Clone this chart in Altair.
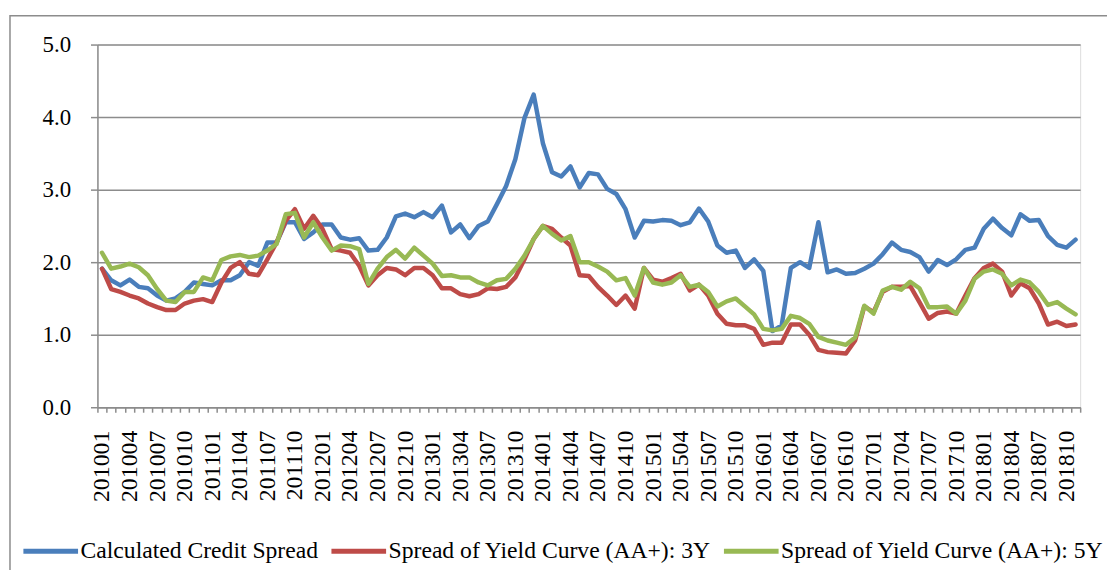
import json
import altair as alt
import pandas as pd

# Categories: monthly periods 201001 .. 201811
months = [f"{2010 + i // 12}{i % 12 + 1:02d}" for i in range(107)]

calc_spread = [
    1.91, 1.75, 1.68, 1.76, 1.66, 1.64, 1.54, 1.47, 1.50, 1.59,
    1.72, 1.70, 1.68, 1.75, 1.75, 1.82, 2.00, 1.95, 2.27, 2.27,
    2.55, 2.55, 2.32, 2.41, 2.52, 2.52, 2.34, 2.31, 2.33, 2.16,
    2.17, 2.34, 2.63, 2.67, 2.62, 2.69, 2.62, 2.78, 2.41, 2.52,
    2.33, 2.50, 2.56, 2.80, 3.05, 3.42, 3.99, 4.31, 3.64, 3.24,
    3.18, 3.32, 3.03, 3.23, 3.21, 3.01, 2.94, 2.73, 2.34, 2.57,
    2.56, 2.58, 2.57, 2.51, 2.55, 2.74, 2.56, 2.23, 2.13, 2.16,
    1.92, 2.04, 1.88, 1.05, 1.13, 1.92, 2.00, 1.92, 2.55, 1.86,
    1.90, 1.84, 1.85, 1.91, 1.98, 2.11, 2.27, 2.17, 2.14, 2.07,
    1.87, 2.03, 1.96, 2.04, 2.17, 2.20, 2.46, 2.60, 2.47, 2.37,
    2.66, 2.57, 2.58, 2.36, 2.24, 2.20, 2.31,
]

aa_3y = [
    1.91, 1.63, 1.59, 1.54, 1.50, 1.43, 1.38, 1.34, 1.34, 1.43,
    1.47, 1.49, 1.45, 1.72, 1.92, 2.00, 1.84, 1.82, 2.04, 2.27,
    2.57, 2.73, 2.46, 2.64, 2.46, 2.18, 2.16, 2.13, 1.95, 1.68,
    1.82, 1.92, 1.90, 1.82, 1.92, 1.92, 1.82, 1.64, 1.64, 1.56,
    1.53, 1.56, 1.64, 1.63, 1.66, 1.79, 2.04, 2.32, 2.50, 2.46,
    2.34, 2.23, 1.82, 1.81, 1.66, 1.54, 1.41, 1.54, 1.36, 1.92,
    1.76, 1.73, 1.78, 1.84, 1.61, 1.69, 1.54, 1.29, 1.15, 1.13,
    1.13, 1.08, 0.86, 0.89, 0.89, 1.14, 1.14, 1.00, 0.79, 0.76,
    0.75, 0.74, 0.92, 1.39, 1.31, 1.59, 1.66, 1.66, 1.67, 1.45,
    1.22, 1.30, 1.32, 1.29, 1.54, 1.78, 1.92, 1.98, 1.87, 1.54,
    1.71, 1.64, 1.43, 1.14, 1.18, 1.12, 1.14,
]

aa_5y = [
    2.13, 1.91, 1.94, 1.98, 1.93, 1.82, 1.63, 1.47, 1.45, 1.59,
    1.59, 1.79, 1.75, 2.03, 2.08, 2.10, 2.07, 2.09, 2.16, 2.25,
    2.66, 2.68, 2.34, 2.55, 2.34, 2.16, 2.23, 2.22, 2.18, 1.70,
    1.91, 2.07, 2.17, 2.05, 2.20, 2.09, 1.98, 1.81, 1.82, 1.79,
    1.79, 1.72, 1.68, 1.75, 1.77, 1.91, 2.09, 2.32, 2.50, 2.39,
    2.30, 2.36, 2.00, 2.00, 1.94, 1.87, 1.75, 1.78, 1.54, 1.92,
    1.72, 1.69, 1.72, 1.82, 1.66, 1.69, 1.59, 1.39, 1.46, 1.50,
    1.39, 1.28, 1.08, 1.06, 1.08, 1.26, 1.23, 1.15, 0.97, 0.92,
    0.89, 0.86, 0.96, 1.40, 1.29, 1.61, 1.66, 1.62, 1.73, 1.64,
    1.38, 1.38, 1.39, 1.29, 1.47, 1.77, 1.87, 1.90, 1.84, 1.68,
    1.76, 1.72, 1.59, 1.41, 1.45, 1.36, 1.28,
]

series_names = [
    "Calculated Credit Spread",
    "Spread of Yield Curve (AA+): 3Y",
    "Spread of Yield Curve (AA+): 5Y",
]
series_colors = ["#4A7EBB", "#BE4B48", "#98B954"]
y_ticks = [0, 1, 2, 3, 4, 5]

rows = []
for name, vals in zip(series_names, [calc_spread, aa_3y, aa_5y]):
    for i, (m, v) in enumerate(zip(months, vals)):
        rows.append({"idx": i, "month": m, "series": name, "value": v})
df = pd.DataFrame(rows)

n = len(months)
tick_vals = [k - 0.5 for k in range(n + 1)]
label_expr = (
    f"((datum.value + 0.5) % 3 == 0 && datum.value + 0.5 < {n}) ? "
    f"{json.dumps(months)}[datum.value + 0.5] : ''"
)

FONT = "Liberation Serif"
GRAY = "#8c8c8c"
PLOT_W, PLOT_H = 989, 365

lines = alt.Chart(df).mark_line(strokeWidth=4.5, strokeJoin="round", strokeCap="round").encode(
    x=alt.X(
        "idx:Q",
        scale=alt.Scale(domain=[-0.5, n - 0.5], nice=False, zero=False),
        axis=alt.Axis(
            values=tick_vals,
            labelExpr=label_expr,
            labelAngle=270,
            labelOffset=PLOT_W / n / 2,
            labelPadding=18,
            labelOverlap=False,
            labelFlush=False,
            labelFont=FONT,
            labelFontSize=24,
            labelColor="#000000",
            tickSize=5,
            tickColor=GRAY,
            tickWidth=1.5,
            domainColor=GRAY,
            domainWidth=1.5,
            grid=False,
            title=None,
        ),
    ),
    y=alt.Y(
        "value:Q",
        scale=alt.Scale(domain=[0, 5], nice=False),
        axis=alt.Axis(
            values=y_ticks,
            format=".1f",
            tickSize=7,
            tickColor=GRAY,
            tickWidth=1.5,
            domainColor=GRAY,
            domainWidth=1.5,
            gridColor=GRAY,
            gridWidth=1.5,
            grid=True,
            labelPadding=20,
            labelFont=FONT,
            labelFontSize=23,
            labelColor="#000000",
            title=None,
        ),
    ),
    color=alt.Color(
        "series:N",
        scale=alt.Scale(domain=series_names, range=series_colors),
        legend=alt.Legend(
            orient="none",
            legendX=-77,
            legendY=480,
            direction="horizontal",
            title=None,
            symbolType="stroke",
            symbolSize=3025,
            symbolStrokeWidth=5,
            labelFont=FONT,
            labelFontSize=23.8,
            labelColor="#000000",
            labelLimit=600,
            labelOffset=0,
            columnPadding=2,
            gridAlign="none",
            padding=0,
        ),
    ),
    order=alt.Order("idx:Q"),
)

frame = alt.Chart(alt.Data(values=[{}])).mark_rect(
    fillOpacity=0, stroke=GRAY, strokeWidth=1.5
).encode(
    x=alt.value(-88), x2=alt.value(1200), y=alt.value(-29), y2=alt.value(700)
)

chart = alt.layer(frame, lines).properties(
    width=PLOT_W,
    height=PLOT_H,
    autosize=alt.AutoSizeParams(type="none"),
    padding={"left": 90, "top": 35, "right": 27, "bottom": 162},
).configure_view(strokeWidth=0).configure(background="white")

chart.save("out.html", embed_options={"renderer": "svg", "actions": False})
